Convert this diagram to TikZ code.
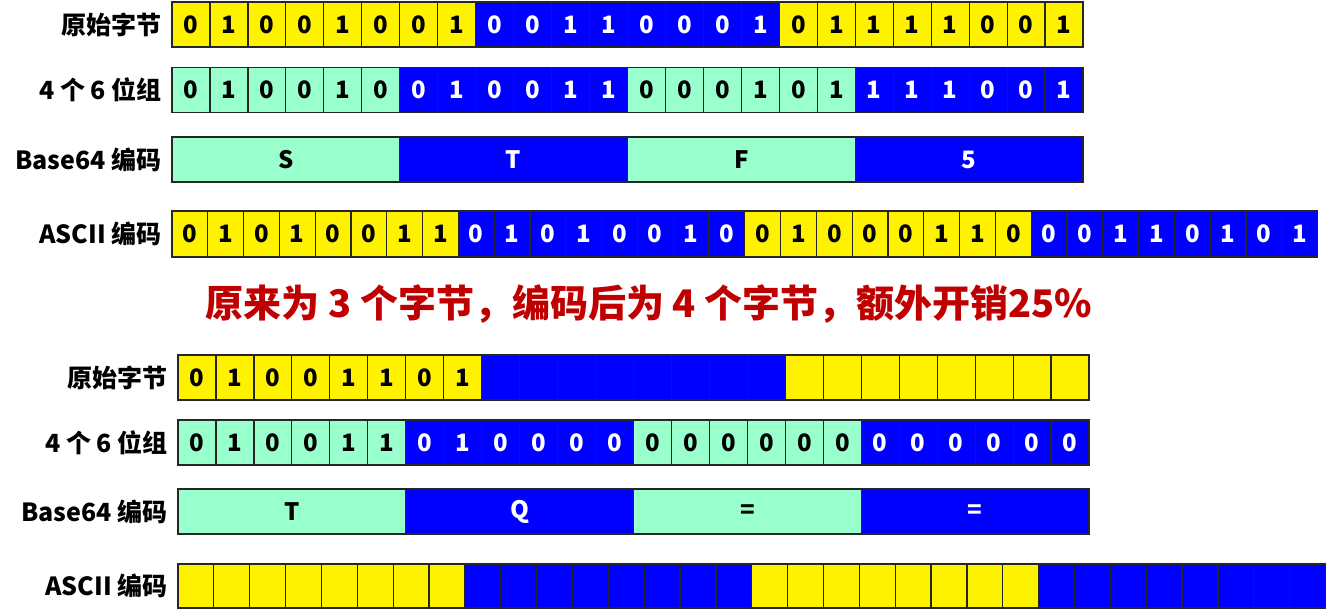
\documentclass[tikz,border=0pt]{standalone}
\usepackage{fontspec}
\setmainfont{Noto Sans CJK SC}
\definecolor{mint}{HTML}{99FFCC}
\definecolor{titlered}{HTML}{C00000}
\tikzset{
  x=1pt, y=-1pt,
  cell/.style={draw=black!85, line width=1.2pt, inner sep=0pt, outer sep=0pt,
    font=\fontsize{24}{24}\selectfont\bfseries},
  yb/.style={fill=yellow, text=black},
  bb/.style={fill=blue, text=white},
  gb/.style={fill=mint, text=black},
  lbl/.style={anchor=east, inner sep=0pt, font=\fontsize{25}{25}\selectfont\bfseries},
  ttl/.style={inner sep=0pt, text=titlered, font=\fontsize{38}{38}\selectfont\bfseries},
}
% #1 prefix, #2 x0, #3 cell width, #4 y centre, #5 height, #6 group size, #7 even style, #8 list
\newcommand\bitrow[8]{%
  \tikzset{c0/.style={#7}, c1/.style={bb}}%
  \foreach \b [count=\i from 0] in {#8} {
    \pgfmathtruncatemacro\g{mod(floor(\i/#6),2)}
    \node[cell, c\g, minimum width=#3pt, minimum height=#5pt] (#1\i)
      at ({#2+(\i+0.5)*#3}, #4) {\if\b-\else\b\fi};
  }%
}
\begin{document}
\begin{tikzpicture}
\useasboundingbox (0,0) rectangle (1326,615);
% ---------- top section ----------
\node[lbl] (la1) at (162,24.5) {原始字节};
\node[lbl] (la2) at (162,90) {4 个 6 位组};
\node[lbl] (la3) at (162,159.5) {Base64 编码};
\node[lbl] (la4) at (162,234) {ASCII 编码};
\bitrow{ta}{172}{37.96}{24.5}{45}{8}{yb}{0,1,0,0,1,0,0,1,0,0,1,1,0,0,0,1,0,1,1,1,1,0,0,1}
\bitrow{tb}{172}{37.96}{90}{45}{6}{gb}{0,1,0,0,1,0,0,1,0,0,1,1,0,0,0,1,0,1,1,1,1,0,0,1}
\bitrow{tc}{172}{227.75}{159.5}{45}{1}{gb}{S,T,F,5}
\bitrow{td}{172}{35.8}{234}{46}{8}{yb}{0,1,0,1,0,0,1,1,0,1,0,1,0,0,1,0,0,1,0,0,0,1,1,0,0,0,1,1,0,1,0,1}
% ---------- title ----------
\node[ttl] (title) at (649,304) {原来为 3 个字节，编码后为 4 个字节，额外开销25\%};
% ---------- bottom section ----------
\node[lbl] (lb1) at (168,377.5) {原始字节};
\node[lbl] (lb2) at (168,442.5) {4 个 6 位组};
\node[lbl] (lb3) at (168,511.5) {Base64 编码};
\node[lbl] (lb4) at (168,586) {ASCII 编码};
\bitrow{ba}{178}{37.96}{377.5}{45}{8}{yb}{0,1,0,0,1,1,0,1,-,-,-,-,-,-,-,-,-,-,-,-,-,-,-,-}
\bitrow{bb}{178}{37.96}{442.5}{45}{6}{gb}{0,1,0,0,1,1,0,1,0,0,0,0,0,0,0,0,0,0,0,0,0,0,0,0}
\bitrow{bc}{178}{227.75}{511.5}{45}{1}{gb}{T,Q,=,=}
\bitrow{bd}{178}{35.86}{586}{44}{8}{yb}{-,-,-,-,-,-,-,-,-,-,-,-,-,-,-,-,-,-,-,-,-,-,-,-,-,-,-,-,-,-,-,-}
\end{tikzpicture}
\end{document}
